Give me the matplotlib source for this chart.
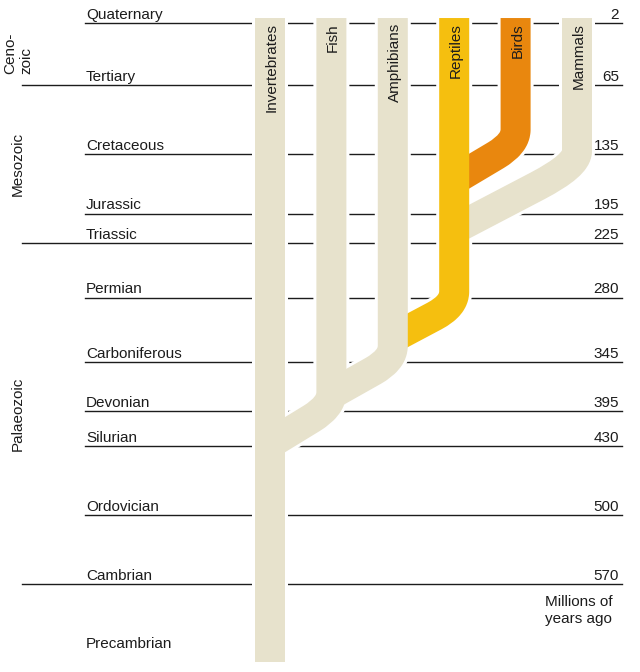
# Evolution of the main animal groups through geological time

import matplotlib.pyplot as plt
from matplotlib.path import Path
from matplotlib.patches import PathPatch

plt.rcParams['font.family'] = ['Liberation Sans', 'DejaVu Sans']

# geological periods and the age (millions of years ago) at their start
periods = ["Quaternary", "Tertiary", "Cretaceous", "Jurassic", "Triassic", "Permian",
           "Carboniferous", "Devonian", "Silurian", "Ordovician", "Cambrian"]
period_age = [2, 65, 135, 195, 225, 280, 345, 395, 430, 500, 570]
era_boundaries = [65, 225, 570]
eras = ["Ceno-\nzoic", "Mesozoic", "Palaeozoic"]
era_from = [0, 65, 225]
era_to = [65, 225, 570]

# animal groups; each branches off its parent group
groups = ["Invertebrates", "Fish", "Amphibians", "Reptiles", "Birds", "Mammals"]
parent = [None, 0, 1, 2, 3, 3]
join_age = [649, 428, 378, 321, 161, 211]   # where the branch leaves the parent
rise_age = [649, 390, 343, 288, 124, 146]   # where the branch turns upward

pale = '#E7E2CC'
colors = [pale, pale, pale, '#F5BF0F', '#E9870E', pale]

BAND = 30 * 72 / 100      # band width, 30 px in points
GAP = 3 * 72 / 100        # white gap around bands
TOP = -3                  # bands reach a little above the present
INK = '#1c1c1c'

fig = plt.figure(figsize=(6.4, 6.72), dpi=100)
ax = fig.add_axes([0, 0, 1, 1])
ax.set_xlim(-4.397, 6.026)
ax.set_ylim(658.9, -21.25)
ax.axis('off')

x_short, x_long, x_end = -3.013, -4.04, 5.733

# period lines, names and dates
for name, age in zip(periods, period_age):
    x0 = x_long if age in era_boundaries else x_short
    ax.plot([x0, x_end], [age, age], color=INK, lw=1.0, zorder=1)
    ax.annotate(name, (-2.997, age), xytext=(0, 3), textcoords='offset points',
                ha='left', va='baseline', fontsize=11, color=INK)
    ax.annotate(str(age), (5.684, age), xytext=(0, 3), textcoords='offset points',
                ha='right', va='baseline', fontsize=11, color=INK)

ax.text(-2.997, 631, "Precambrian", ha='left', va='center', fontsize=11, color=INK)
ax.text(4.48, 581, "Millions of\nyears ago", ha='left', va='top', fontsize=11,
        color=INK, linespacing=1.25)

# era names
for name, a, b in zip(eras, era_from, era_to):
    ax.text(-4.1, (a + b) / 2, name, rotation=90, ha='center', va='center',
            multialignment='left', fontsize=11, color=INK, linespacing=1.15)


def branch_path(i):
    if parent[i] is None:
        verts = [(i, TOP), (i, join_age[i])]
        codes = [Path.MOVETO, Path.LINETO]
    else:
        p = parent[i]
        r, j = rise_age[i], join_age[i]
        f = 0.32
        verts = [(i, TOP), (i, r - 14), (i, r), (i + f * (p - i), r + f * (j - r)), (p, j)]
        codes = [Path.MOVETO, Path.LINETO, Path.CURVE3, Path.CURVE3, Path.LINETO]
    return Path(verts, codes)


# white halo first, so the period lines stop short of every band
for i in range(len(groups)):
    ax.add_patch(PathPatch(branch_path(i), fill=False, edgecolor='white',
                           lw=BAND + 2 * GAP, capstyle='butt', zorder=2))

# bands: parents drawn over their branches
for i in range(len(groups)):
    ax.add_patch(PathPatch(branch_path(i), fill=False, edgecolor=colors[i],
                           lw=BAND, capstyle='butt', joinstyle='round', zorder=10 - i))
    ax.text(i + 0.03, TOP + 5, groups[i], rotation=90, ha='center', va='top',
            fontsize=11, color=INK, zorder=20)

fig.savefig('out.png', dpi=100)
